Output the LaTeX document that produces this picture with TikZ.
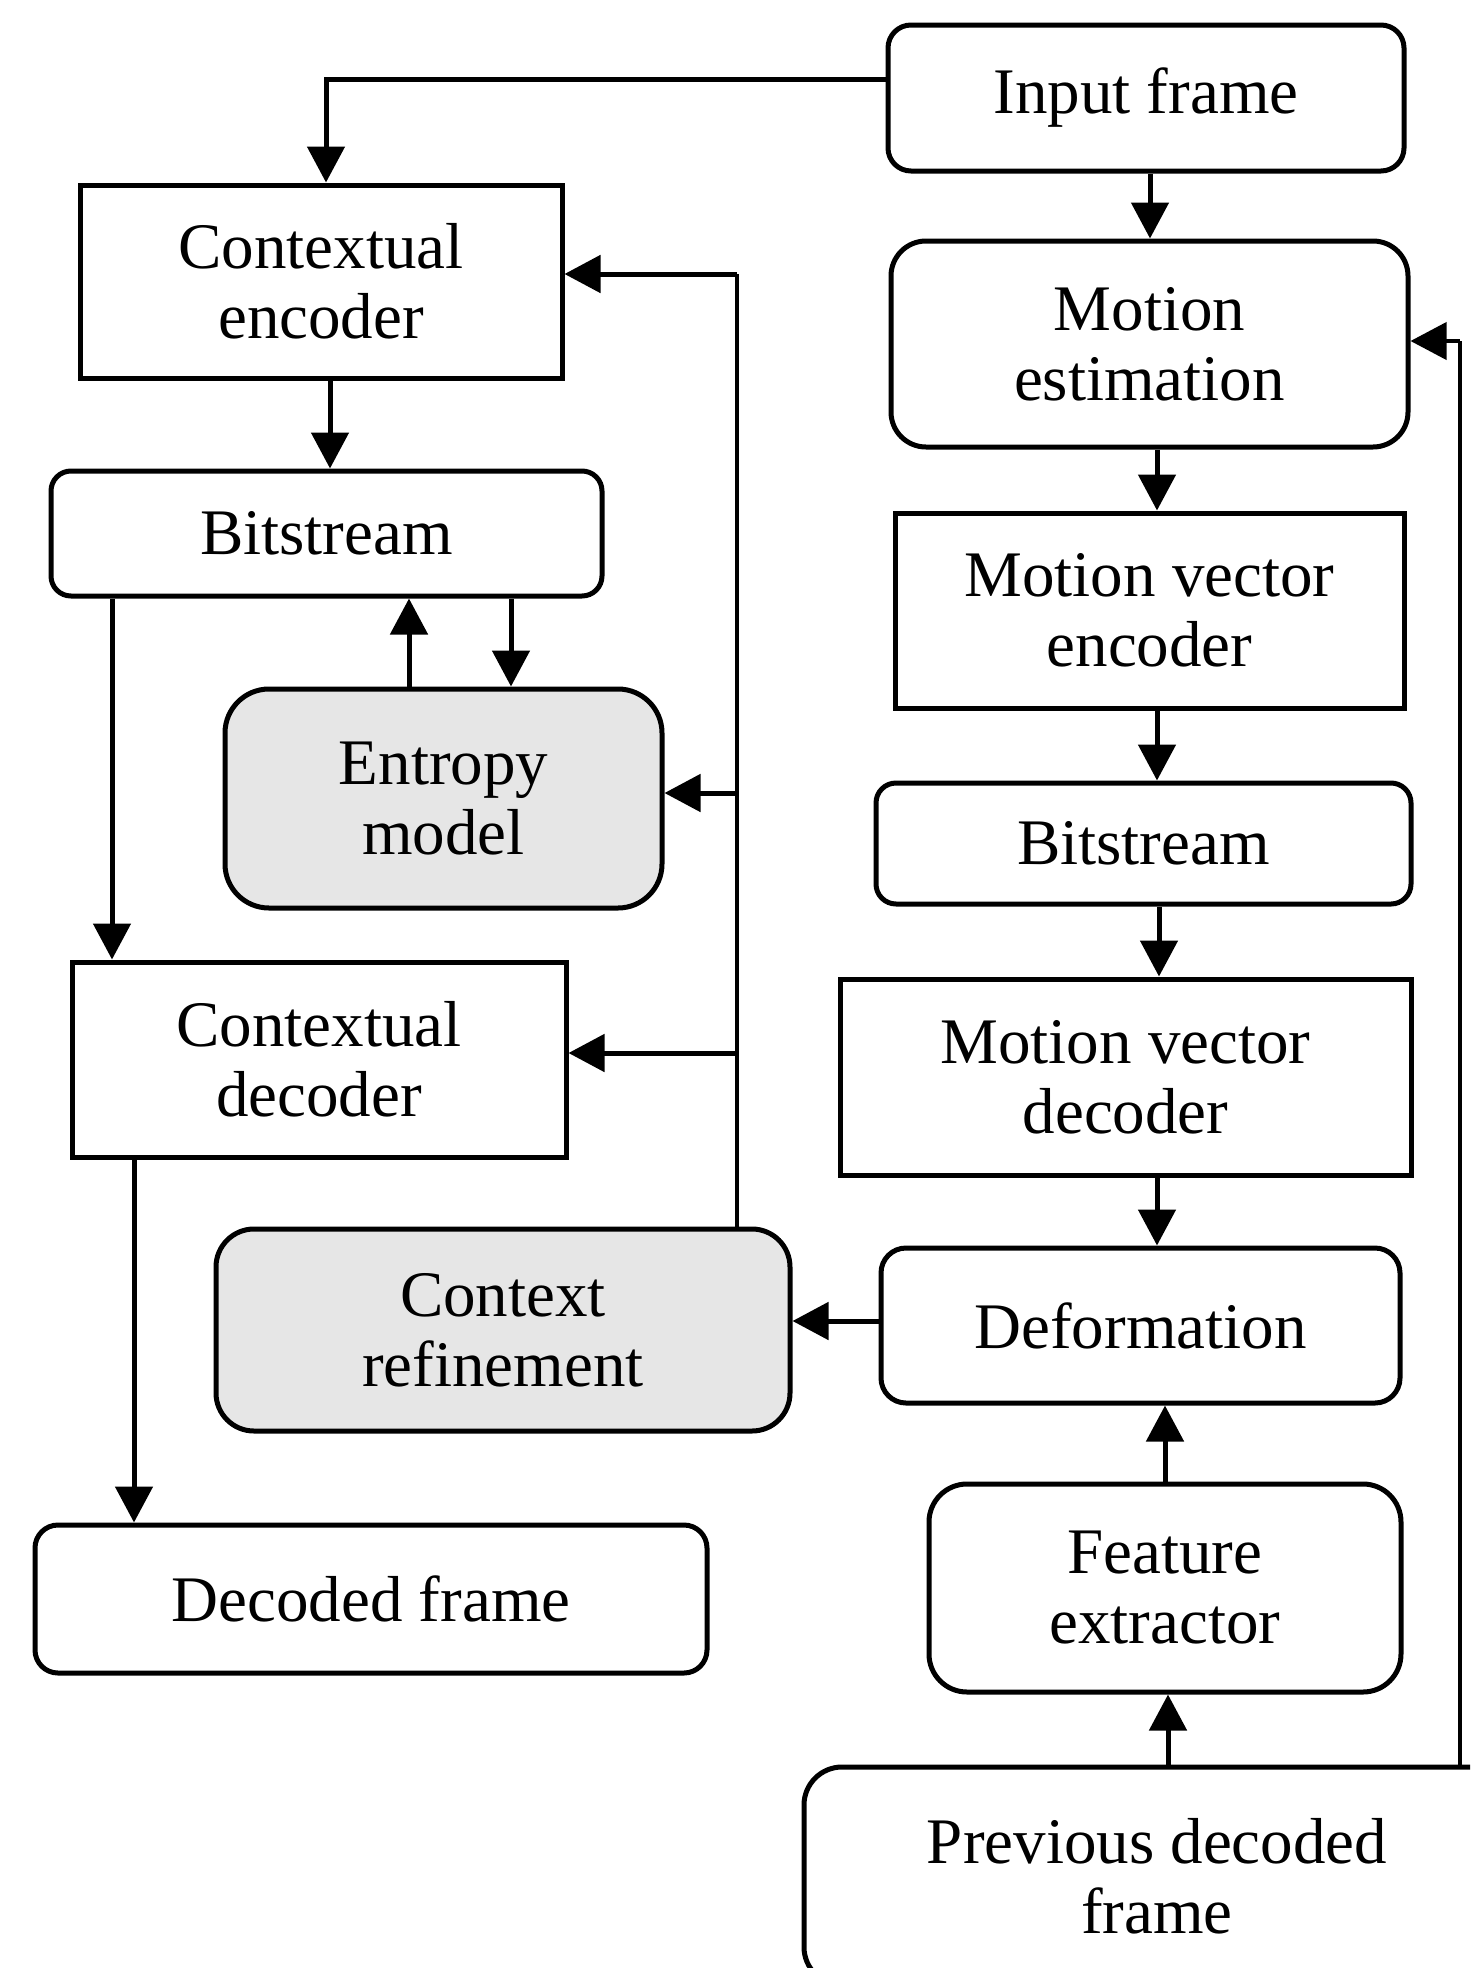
\documentclass[tikz,border=0pt]{standalone}
\usepackage{fontspec}
\setmainfont{Liberation Serif}
\usetikzlibrary{arrows.meta}
\definecolor{boxgrey}{RGB}{230,230,230}
\tikzset{
  box/.style={draw, line width=5pt, inner sep=0pt, align=center,
    font=\fontsize{65}{70}\selectfont},
  greyfill/.style={fill=boxgrey},
  arr/.style={line width=5pt, -{Triangle[length=36pt,width=37pt]}},
  thinline/.style={line width=3.3pt}
}
\begin{document}
\begin{tikzpicture}[x=1pt,y=-1pt]
\useasboundingbox (0,0) rectangle (1470,1968);
\clip (0,0) rectangle (1470,1968);

% right column
\node[box, rounded corners=23pt, minimum width=516pt, minimum height=146pt] (inp) at (1146,98) {Input frame};
\node[box, rounded corners=35pt, minimum width=517pt, minimum height=206pt] (me) at (1149.5,344) {Motion\\estimation};
\node[box, minimum width=509pt, minimum height=195pt] (mve) at (1149.5,610.5) {Motion vector\\encoder};
\node[box, rounded corners=20pt, minimum width=535pt, minimum height=121pt] (bsr) at (1143.5,843.5) {Bitstream};
\node[box, minimum width=571pt, minimum height=196pt] (mvd) at (1125.5,1077) {Motion vector\\decoder};
\node[box, rounded corners=25pt, minimum width=519pt, minimum height=155pt] (def) at (1140.5,1325.5) {Deformation};
\node[box, rounded corners=38pt, minimum width=472pt, minimum height=208pt] (fe) at (1165,1588) {Feature\\extractor};
\node[box, rounded corners=38pt, minimum width=706pt, minimum height=218pt] (prev) at (1157,1876) {Previous decoded\\frame};

% left column
\node[box, minimum width=482pt, minimum height=193pt] (cenc) at (321,281.5) {Contextual\\encoder};
\node[box, rounded corners=20pt, minimum width=551pt, minimum height=125pt] (bsl) at (326.5,533.5) {Bitstream};
\node[box, greyfill, rounded corners=44pt, minimum width=437pt, minimum height=219pt] (em) at (443.5,798.5) {Entropy\\model};
\node[box, minimum width=494pt, minimum height=195pt] (cdec) at (319,1059.5) {Contextual\\decoder};
\node[box, greyfill, rounded corners=38pt, minimum width=574pt, minimum height=202pt] (cref) at (503,1330) {Context\\refinement};
\node[box, rounded corners=23pt, minimum width=672pt, minimum height=148pt] (dec) at (371,1599) {Decoded frame};

% helper coordinates
\coordinate (c1) at (326,79);
\coordinate (rx1) at (1150,0);
\coordinate (rx2) at (1157,0);
\coordinate (rx3) at (1159,0);
\coordinate (rx4) at (1165,0);
\coordinate (rx5) at (1168,0);
\coordinate (k1) at (1460,341);
\coordinate (lx1) at (330,0);
\coordinate (lx2) at (112,0);
\coordinate (lx3) at (409,0);
\coordinate (lx4) at (511,0);
\coordinate (lx5) at (134,0);
\coordinate (j1) at (737,274);
\coordinate (j2) at (737,793);
\coordinate (j3) at (737,1053);

% right column connectors
\draw[arr] (inp.west |- c1) -| (cenc.north -| c1);
\draw[arr] (inp.south -| rx1) -- (me.north -| rx1);
\draw[arr] (me.south -| rx2) -- (mve.north -| rx2);
\draw[arr] (mve.south -| rx2) -- (bsr.north -| rx2);
\draw[arr] (bsr.south -| rx3) -- (mvd.north -| rx3);
\draw[arr] (mvd.south -| rx2) -- (def.north -| rx2);
\draw[arr] (fe.north -| rx4) -- (def.south -| rx4);
\draw[arr] (prev.north -| rx5) -- (fe.south -| rx5);
\draw[thinline] (prev.north -| k1) -- (k1);
\draw[arr, line width=4pt] (k1) -- (me.east |- k1);

% left column connectors
\draw[arr] (cenc.south -| lx1) -- (bsl.north -| lx1);
\draw[arr] (bsl.south -| lx2) -- (cdec.north -| lx2);
\draw[arr] (em.north -| lx3) -- (bsl.south -| lx3);
\draw[arr] (bsl.south -| lx4) -- (em.north -| lx4);
\draw[arr] (cdec.south -| lx5) -- (dec.north -| lx5);

% context refinement feedback
\draw[thinline] (cref.north -| j1) -- (j1);
\draw[arr] (j1) -- (cenc.east |- j1);
\draw[arr] (j2) -- (em.east |- j2);
\draw[arr] (j3) -- (cdec.east |- j3);
\draw[arr] (def.west |- j3 |- 0,1321) -- (cref.east |- 0,1321);
\end{tikzpicture}
\end{document}
